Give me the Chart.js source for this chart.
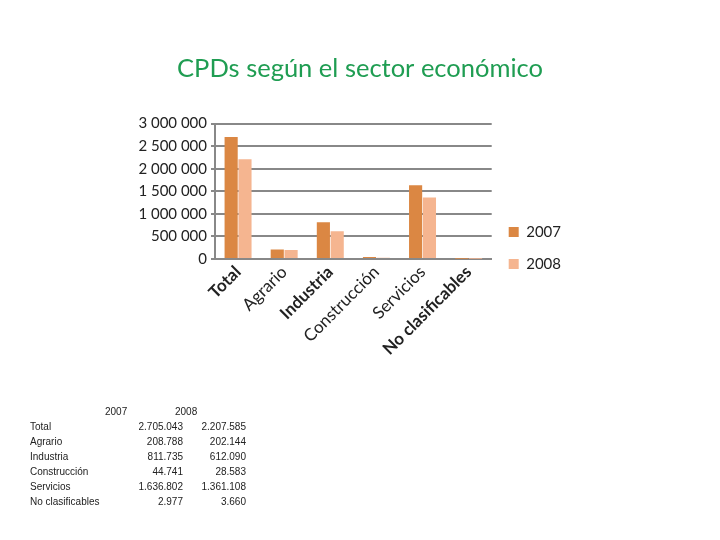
<!DOCTYPE html>
<html>
<head>
<meta charset="utf-8">
<script src="https://cdn.jsdelivr.net/npm/chart.js@4"></script>
<style>
  body { margin: 0; background: #fff; }
  #wrap { position: relative; width: 720px; height: 540px; }
  #sectorChart { position: absolute; left: 0; top: 0; }
  #tabla { position: absolute; left: 0; top: 0; font-family: "Liberation Sans", sans-serif; font-size: 10px; color: #222; }
  #tabla span { position: absolute; white-space: nowrap; }
</style>
</head>
<body>
<div id="wrap">
  <canvas id="sectorChart" width="720" height="540"></canvas>
  <div id="tabla"></div>
</div>
<script>
const sectores = ["Total", "Agrario", "Industria", "Construcción", "Servicios", "No clasificables"];
const anios = ["2007", "2008"];
const cpd2007 = [2705043, 208788, 811735, 44741, 1636802, 2977];
const cpd2008 = [2207585, 202144, 612090, 28583, 1361108, 3660];
const boldLabels = [0, 2, 5];

Chart.defaults.font.family = "Lato";
Chart.defaults.color = "#222222";

function spaced(v) {
  return String(v).replace(/\B(?=(\d{3})+(?!\d))/g, " ");
}
function dotted(v) {
  return String(v).replace(/\B(?=(\d{3})+(?!\d))/g, ".");
}

// legend sits next to the lower part of the plot, title centred on the page
const boxShift = {
  id: 'boxShift',
  afterLayout(chart) {
    const lg = chart.legend;
    const d = 248 - (lg.top + lg.bottom) / 2;
    lg.top += d;
    lg.bottom += d;
    const tb = chart.titleBlock;
    const dx = 360 - (tb.left + tb.right) / 2;
    tb.left += dx;
    tb.right += dx;
  }
};

const ctx = document.getElementById('sectorChart').getContext('2d');

const chart = new Chart(ctx, {
  type: 'bar',
  data: {
    labels: sectores,
    datasets: [
      {
        label: anios[0],
        data: cpd2007,
        backgroundColor: "#DB8743",
        categoryPercentage: 0.6,
        barPercentage: 0.95,
      },
      {
        label: anios[1],
        data: cpd2008,
        backgroundColor: "#F5B590",
        categoryPercentage: 0.6,
        barPercentage: 0.95,
      },
    ]
  },
  options: {
    responsive: false,
    animation: false,
    layout: {
      padding: { left: 130, right: 149, top: 53, bottom: 171 }
    },
    plugins: {
      title: {
        display: true,
        text: "CPDs según el sector económico",
        color: "#1F9D52",
        font: { size: 25.5, weight: "normal" },
        padding: { top: 0, bottom: 40 },
      },
      legend: {
        position: 'right',
        align: 'center',
        labels: {
          boxWidth: 10,
          boxHeight: 10,
          padding: 17,
          font: { size: 15 },
          color: "#222222",
        }
      },
      tooltip: { enabled: false },
    },
    scales: {
      x: {
        grid: { display: false },
        border: { color: "#888888", width: 2 },
        ticks: {
          maxRotation: 45,
          minRotation: 45,
          padding: -5,
          font: (c) => ({ size: 17, weight: boldLabels.includes(c.index) ? "bold" : "normal" }),
        },
        afterFit: (scale) => { scale.height = 110; },
      },
      y: {
        min: 0,
        max: 3000000,
        ticks: {
          stepSize: 500000,
          font: { size: 15 },
          padding: 4,
          callback: (v) => spaced(v),
        },
        grid: { color: "#888888", lineWidth: 2, tickLength: 4 },
        border: { color: "#888888", width: 2 },
        afterFit: (scale) => { scale.width = 85; },
      },
    }
  },
  plugins: [boxShift]
});

// tabla de datos bajo el gráfico
const tabla = document.getElementById('tabla');
function put(text, x, y, alignRight) {
  const s = document.createElement('span');
  s.textContent = text;
  s.style.top = y + 'px';
  if (alignRight) {
    s.style.right = (-x) + 'px';
  } else {
    s.style.left = x + 'px';
  }
  tabla.appendChild(s);
}
put(anios[0], 105, 406, false);
put(anios[1], 175, 406, false);
sectores.forEach((s, i) => {
  const y = 421 + i * 15;
  put(s, 30, y, false);
  put(dotted(cpd2007[i]), 183, y, true);
  put(dotted(cpd2008[i]), 246, y, true);
});
</script>
</body>
</html>
